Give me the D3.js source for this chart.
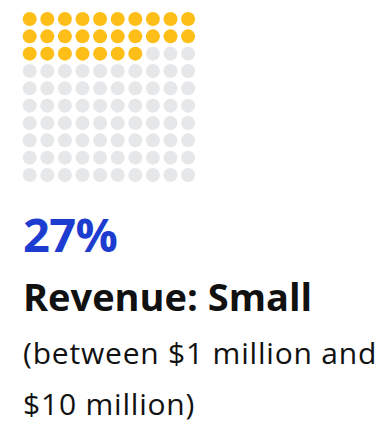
<!DOCTYPE html>
<html>
<head>
<meta charset="utf-8">
<script src="https://cdn.jsdelivr.net/npm/d3@7"></script>
<style>
  html, body { margin: 0; padding: 0; background: #fff; }
  svg { display: block; }
</style>
</head>
<body>
<svg id="chart" width="383" height="424"></svg>
<script>
// Share of respondents in this revenue band, shown as a 10x10 waffle
const shareValue = [27];
const gridColumns = [0, 1, 2, 3, 4, 5, 6, 7, 8, 9];
const gridRows = [0, 1, 2, 3, 4, 5, 6, 7, 8, 9];
const titleLines = ["Revenue: Small"];
const noteLines = ["(between $1 million and", "$10 million)"];

const svg = d3.select("#chart");
const FONT = "'Open Sans', 'Noto Sans', sans-serif";

const x = d3.scalePoint().domain(gridColumns).range([29.7, 188.1]);
const y = d3.scalePoint().domain(gridRows).range([19, 175]);

const cells = [];
gridRows.forEach(r => gridColumns.forEach(c => cells.push({ r, c, i: r * gridColumns.length + c })));

svg.append("g")
  .selectAll("circle")
  .data(cells)
  .join("circle")
  .attr("cx", d => x(d.c))
  .attr("cy", d => y(d.r))
  .attr("r", 7)
  .attr("fill", d => d.i < shareValue[0] ? "#FDBE17" : "#E6E7E9");

// Big percentage figure
svg.append("text")
  .attr("x", 23)
  .attr("y", 251.5)
  .attr("font-family", FONT)
  .attr("font-weight", 700)
  .attr("font-size", 47)
  .attr("letter-spacing", -0.6)
  .attr("fill", "#1C3DD0")
  .text(d3.format(".0%")(shareValue[0] / 100));

// Category title
svg.append("g")
  .selectAll("text")
  .data(titleLines)
  .join("text")
  .attr("x", 23)
  .attr("y", (d, i) => 311 + i * 52)
  .attr("font-family", FONT)
  .attr("font-weight", 700)
  .attr("font-size", 38)
  .attr("fill", "#111")
  .text(d => d);

// Range note
svg.append("g")
  .selectAll("text")
  .data(noteLines)
  .join("text")
  .attr("x", 23)
  .attr("y", (d, i) => 363.5 + i * 51.5)
  .attr("font-family", FONT)
  .attr("font-weight", 400)
  .attr("font-size", 30)
  .attr("letter-spacing", 0.8)
  .attr("fill", "#111")
  .text(d => d);
</script>
</body>
</html>
